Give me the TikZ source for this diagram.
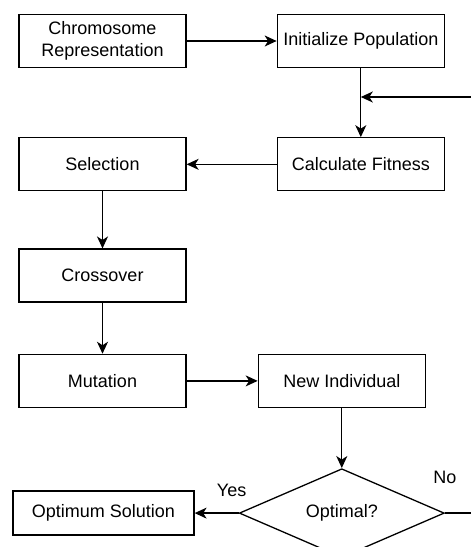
\documentclass[tikz,border=0pt]{standalone}
\usepackage{fontspec}
\setmainfont{Liberation Sans}
\usetikzlibrary{arrows.meta}
\usetikzlibrary{positioning}
\usetikzlibrary{shapes.geometric}

\begin{document}
\begin{tikzpicture}
      [stepBox/.style={rectangle,draw=black,line width=1.3pt,minimum width=167pt,minimum height=53pt,inner sep=0pt,align=center,font=\fontsize{18}{22}\selectfont},
       decisionBox/.style={diamond,draw=black,line width=1.3pt,minimum width=205pt,minimum height=84pt,inner sep=0pt,font=\fontsize{18}{22}\selectfont},
       flowArrow/.style={draw=black,line width=1.3pt,-{Stealth[length=12pt,width=11pt,inset=3.5pt]}},
       flowLine/.style={draw=black,line width=1.3pt},
       branchLabel/.style={font=\fontsize{18}{22}\selectfont,inner sep=0pt}]
      \clip (0,0) rectangle (471pt,-547pt);
      \node[stepBox] (chromosome) at (102.5pt,-41pt) {Chromosome\\Representation};
      \node[stepBox] (initPop) [right=90pt of chromosome] {Initialize Population};
      \node[stepBox] (fitness) [below=69pt of initPop] {Calculate Fitness};
      \node[stepBox] (selection) [left=90pt of fitness] {Selection};
      \node[stepBox] (crossover) [below=57pt of selection] {Crossover};
      \node[stepBox] (mutation) [below=51pt of crossover] {Mutation};
      \node[stepBox] (newIndiv) [right=71pt of mutation] {New Individual};
      \node[decisionBox] (optimal) [below=60pt of newIndiv] {Optimal?};
      \node[stepBox,minimum width=181pt,minimum height=44pt] (solution) [left=44pt of optimal] {Optimum Solution};
      % labels of the decision
      \node[branchLabel] (yesLabel) at ([xshift=-7pt,yshift=23pt]optimal.west) {Yes};
      \node[branchLabel] (noLabel) at ([yshift=36pt]optimal.east) {No};
      % loop back from the right edge
      \coordinate (loopEntry) at (471pt,-97pt);
      \coordinate (noExit) at (optimal.east -| loopEntry);
      \draw[flowArrow] (chromosome) -- (initPop);
      \draw[flowArrow] (initPop) -- (fitness);
      \draw[flowArrow] (loopEntry) -- (loopEntry -| initPop.south);
      \draw[flowArrow] (fitness) -- (selection);
      \draw[flowArrow] (selection) -- (crossover);
      \draw[flowArrow] (crossover) -- (mutation);
      \draw[flowArrow] (mutation) -- (newIndiv);
      \draw[flowArrow] (newIndiv) -- (optimal);
      \draw[flowArrow] (optimal) -- (solution);
      \draw[flowLine] (optimal.east) -- (noExit);
    \end{tikzpicture}
\end{document}
